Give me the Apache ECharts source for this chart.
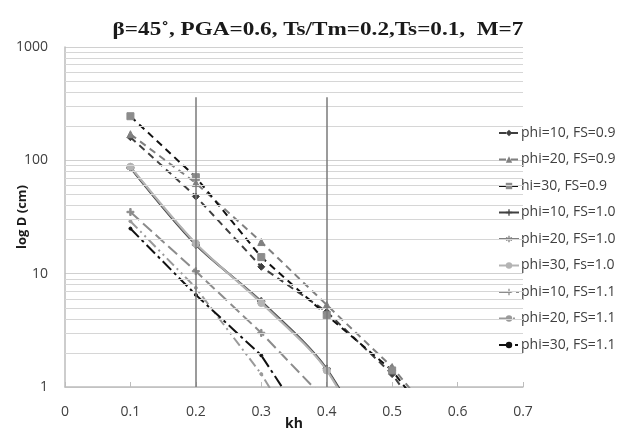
<!DOCTYPE html>
<html>
<head>
<meta charset="utf-8">
<script src="https://cdn.jsdelivr.net/npm/echarts@6/dist/echarts.min.js"></script>
<style>html,body{margin:0;padding:0;background:#fff}#c{width:626px;height:432px}</style>
</head>
<body>
<div id="c"></div>
<script>
// ---- data ----
const titleText = 'β=45˚, PGA=0.6, Ts/Tm=0.2,Ts=0.1,  M=7';
const seriesNames = ['phi=10, FS=0.9','phi=20, FS=0.9','hi=30, FS=0.9','phi=10, FS=1.0','phi=20, FS=1.0','phi=30, Fs=1.0','phi=10, FS=1.1','phi=20, FS=1.1','phi=30, FS=1.1'];
const kh_a = [0.1, 0.2, 0.3, 0.4, 0.5, 0.6];
const phi10_fs09 = [160, 48, 11.5, 4.6, 1.3, 0.2];
const phi20_fs09 = [170, 63, 19, 5.3, 1.5, 0.3];
const phi30_fs09 = [245, 71, 14, 4.3, 1.4, 0.25];
const kh_b = [0.1, 0.2, 0.3, 0.4, 0.5];
const phi10_fs10 = [86, 18, 5.7, 1.45, 0.13];
const phi20_fs10 = [87, 18.3, 5.6, 1.42, 0.12];
const phi30_fs10 = [88, 18.5, 5.5, 1.4, 0.11];
const kh_c = [0.1, 0.2, 0.3, 0.4];
const phi10_fs11 = [35, 10.5, 3.0, 0.75];
const phi20_fs11 = [29, 7.5, 1.3, 0.15];
const phi30_fs11 = [25, 6.5, 1.9, 0.25];
const yMinorTicks = [2,3,4,5,6,7,8,9,20,30,40,50,60,70,80,90,200,300,400,500,600,700,800,900];
const vlineX = [0.2, 0.4];
const vlineTop = 360;

const pair = (xs, ys) => xs.map((x, i) => [x, ys[i]]);
const plusPath = 'path://M4,0H6V4H10V6H6V10H4V6H0V4H4Z';
const starPath = 'path://M4,0H6V3.3L8.9,1.7L9.9,3.4L7,5L9.9,6.6L8.9,8.3L6,6.7V10H4V6.7L1.1,8.3L0.1,6.6L3,5L0.1,3.4L1.1,1.7L4,3.3Z';

function mk(name, data, lineColor, markColor, symbol, dash, smooth, size) {
  return {
    name, type: 'line', data, smooth: smooth || false, clip: true,
    symbol, symbolSize: size || 7, showSymbol: true,
    lineStyle: { color: lineColor, width: 2, type: dash },
    itemStyle: { color: markColor, borderColor: markColor }
  };
}

const series = [
  mk(seriesNames[0], pair(kh_a, phi10_fs09), '#3f3f3f', '#3f3f3f', 'diamond', [7, 5]),
  mk(seriesNames[1], pair(kh_a, phi20_fs09), '#808080', '#808080', 'triangle', [7, 5]),
  mk(seriesNames[2], pair(kh_a, phi30_fs09), '#111111', '#8c8c8c', 'rect', [7, 5]),
  mk(seriesNames[3], pair(kh_b, phi10_fs10), '#404040', '#404040', plusPath, 'solid', 0.3),
  mk(seriesNames[4], pair(kh_b, phi20_fs10), '#808080', '#808080', starPath, 'solid', 0.3),
  mk(seriesNames[5], pair(kh_b, phi30_fs10), '#b4b4b4', '#b4b4b4', 'circle', 'solid', 0.3),
  mk(seriesNames[6], pair(kh_c, phi10_fs11), '#8c8c8c', '#8c8c8c', plusPath, [12, 5]),
  mk(seriesNames[7], pair(kh_c, phi20_fs11), '#9a9a9a', '#9a9a9a', 'circle', [10, 4, 2, 4, 2, 4], false, 3),
  mk(seriesNames[8], pair(kh_c, phi30_fs11), '#111111', '#111111', 'circle', [12, 4, 3, 4], false, 3),
  {
    name: 'helper', type: 'line', data: [[0.2, 1]], symbol: 'none', silent: true,
    lineStyle: { width: 0 }, z: 1,
    markLine: {
      silent: true, symbol: 'none', animation: false,
      label: { show: false },
      lineStyle: { color: '#d6d6d6', width: 1, type: 'solid' },
      data: yMinorTicks.map(v => ({ yAxis: v }))
    }
  },
  {
    name: 'vlines', type: 'line', data: [[0.2, 1]], symbol: 'none', silent: true,
    lineStyle: { width: 0 }, z: 3,
    markLine: {
      silent: true, symbol: 'none', animation: false,
      label: { show: false },
      lineStyle: { color: '#7a7a7a', width: 1.5, type: 'solid' },
      data: vlineX.map(x => [{ coord: [x, 1] }, { coord: [x, vlineTop] }])
    }
  }
];

const chart = echarts.init(document.getElementById('c'), null, { renderer: 'canvas' });
chart.setOption({
  animation: false,
  backgroundColor: '#ffffff',
  graphic: [{
    type: 'text', x: 318, y: 30, scaleX: 1.22, scaleY: 1,
    style: {
      text: titleText, align: 'center', verticalAlign: 'middle',
      font: 'bold 19px "Liberation Serif"', fill: '#1a1a1a'
    }
  }],
  grid: { left: 65, right: 103, top: 47, bottom: 45, containLabel: false, outerBoundsMode: 'none' },
  legend: {
    orient: 'vertical', left: 493, top: 121, itemGap: 12.5, itemWidth: 20, itemHeight: 8,
    data: seriesNames,
    textStyle: { fontFamily: 'Open Sans', fontSize: 14, color: '#404040', padding: [0, 0, 0, -3] }
  },
  xAxis: {
    type: 'value', min: 0, max: 0.7, interval: 0.1,
    name: 'kh', nameLocation: 'middle', nameGap: 30, nameMoveOverlap: false,
    nameTextStyle: { fontFamily: 'Open Sans', fontWeight: 'bold', fontSize: 14, color: '#1a1a1a' },
    axisLine: { show: true, lineStyle: { color: '#bdbdbd', width: 1.5 } },
    axisTick: { show: true, inside: true, length: 5, lineStyle: { color: '#bdbdbd' } },
    axisLabel: { fontFamily: 'Open Sans', fontSize: 14, color: '#404040', margin: 18 },
    splitLine: { show: false }
  },
  yAxis: {
    type: 'log', logBase: 10, min: 1, max: 1000,
    name: 'log D (cm)', nameLocation: 'middle', nameGap: 36, nameRotate: 90, nameMoveOverlap: false,
    nameTextStyle: { fontFamily: 'Open Sans', fontWeight: 'bold', fontSize: 13, color: '#1a1a1a' },
    axisLine: { show: true, lineStyle: { color: '#bdbdbd', width: 1.5 } },
    axisTick: { show: false },
    axisLabel: { fontFamily: 'Open Sans', fontSize: 14, color: '#404040', margin: 17, formatter: v => String(v) },
    splitLine: { show: true, lineStyle: { color: '#d0d0d0', width: 1 } }
  },
  series
});
</script>
</body>
</html>
